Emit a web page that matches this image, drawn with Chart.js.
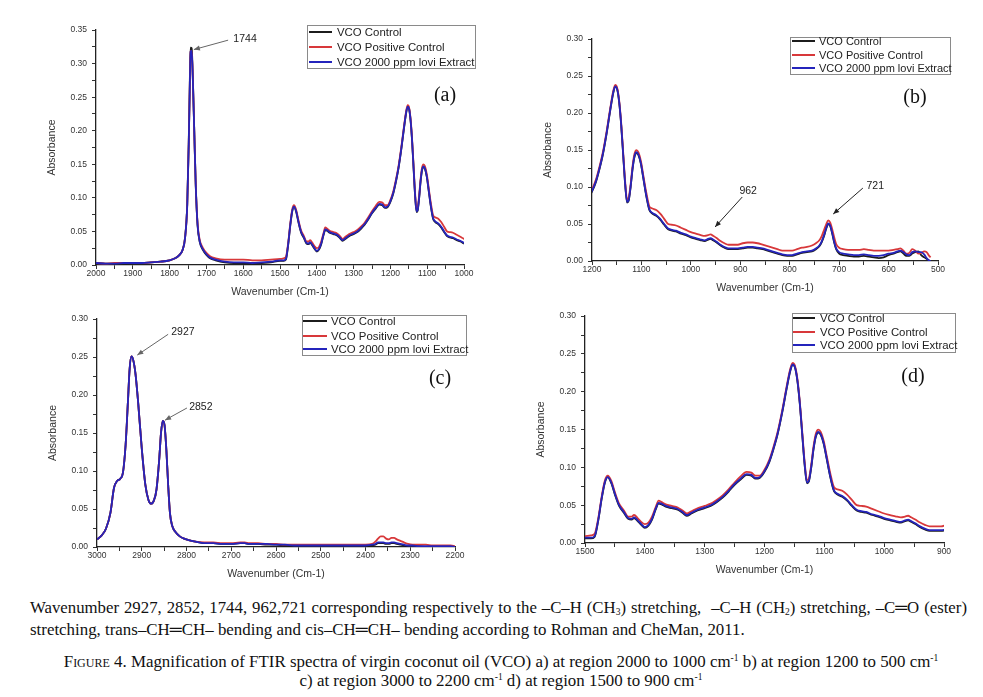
<!DOCTYPE html>
<html>
<head>
<meta charset="utf-8">
<script src="https://cdn.jsdelivr.net/npm/chart.js@4.4.1/dist/chart.umd.min.js"></script>
<style>
  html,body{margin:0;padding:0;background:#fff;}
  body{width:983px;height:697px;position:relative;overflow:hidden;}
  canvas{position:absolute;}
  .cap{position:absolute;font-family:"Liberation Serif","Times New Roman",serif;color:#111;white-space:nowrap;}
  .cap sup{font-size:9.5px;vertical-align:6px;line-height:0;}
  .cap sub{font-size:9.5px;vertical-align:-2px;line-height:0;}
  .sc{font-variant:small-caps;}
</style>
</head>
<body>
<canvas id="ca" width="442" height="281" style="left:46px;top:20px;"></canvas>
<canvas id="cb" width="420" height="268" style="left:542px;top:29px;"></canvas>
<canvas id="cc" width="432" height="274" style="left:47px;top:309px;"></canvas>
<canvas id="cd" width="433" height="273" style="left:535px;top:306px;"></canvas>

<div class="cap" style="left:30px;top:597px;width:937px;font-size:16.8px;line-height:22px;text-align:justify;text-align-last:justify;">Wavenumber 2927, 2852, 1744, 962,721 corresponding respectively to the –C–H (CH<sub>3</sub>) stretching, &nbsp;–C–H (CH<sub>2</sub>) stretching, –C═O (ester)</div>
<div class="cap" style="left:30px;top:619px;font-size:16.9px;line-height:22px;">stretching, trans–CH═CH– bending and cis–CH═CH– bending according to Rohman and CheMan, 2011.</div>
<div class="cap" style="left:20px;top:652px;width:962px;text-align:center;font-size:16.9px;line-height:19px;"><span class="sc">Figure</span> 4. Magnification of FTIR spectra of virgin coconut oil (VCO) a) at region 2000 to 1000 cm<sup>-1</sup> b) at region 1200 to 500 cm<sup>-1</sup><br>c) at region 3000 to 2200 cm<sup>-1</sup> d) at region 1500 to 900 cm<sup>-1</sup></div>

<script>
// ---------------- DATA ----------------
const seriesNames = ["VCO Control", "VCO Positive Control", "VCO 2000 ppm lovi Extract"];

// Fingerprint region (used by panels a, b, d)
const wavenumberFP = [
 2000,1975,1950,1925,1900,1875,1850,1825,1800,1785,
 1775,1765,1758,1752,1748,1745,1743,1740,1737,1733,
 1729,1724,1718,1710,1700,1690,1675,1650,1625,1600,
 1575,1550,1525,1500,1490,1484,1478,1472,1467,1462,
 1456,1450,1443,1435,1428,1422,1418,1412,1406,1400,
 1394,1388,1382,1377,1372,1365,1355,1345,1337,1330,
 1322,1312,1300,1290,1280,1270,1260,1250,1240,1230,
 1222,1215,1208,1200,1192,1185,1178,1170,1163,1157,
 1153,1149,1145,1141,1137,1133,1129,1126,1122,1118,
 1114,1110,1106,1101,1096,1090,1084,1078,1070,1062,
 1054,1046,1038,1030,1020,1010,1000,990,980,972,
 965,960,955,948,940,932,924,915,905,895,
 885,875,865,855,845,835,825,815,805,795,
 785,775,765,755,747,740,735,730,726,722,
 718,714,710,706,700,692,682,670,660,650,
 640,630,620,610,600,590,582,576,570,564,
 558,552,546,540,534,528,523,519,515];

const controlFP = [
 0.003,0.002,0.002,0.002,0.003,0.003,0.004,0.005,0.007,0.010,
 0.014,0.022,0.041,0.092,0.183,0.275,0.324,0.323,0.282,0.200,
 0.119,0.059,0.034,0.023,0.015,0.010,0.007,0.004,0.003,0.003,
 0.002,0.003,0.004,0.006,0.006,0.008,0.029,0.059,0.079,0.087,
 0.079,0.064,0.049,0.040,0.032,0.031,0.033,0.029,0.024,0.020,
 0.023,0.031,0.044,0.052,0.051,0.048,0.046,0.044,0.040,0.036,
 0.039,0.043,0.046,0.049,0.054,0.060,0.068,0.077,0.084,0.090,
 0.089,0.085,0.086,0.094,0.107,0.124,0.144,0.174,0.204,0.227,
 0.236,0.232,0.214,0.184,0.144,0.104,0.079,0.081,0.099,0.124,
 0.141,0.146,0.143,0.131,0.111,0.087,0.069,0.064,0.061,0.056,
 0.049,0.043,0.041,0.040,0.037,0.035,0.032,0.030,0.028,0.027,
 0.029,0.030,0.028,0.025,0.021,0.018,0.016,0.016,0.016,0.017,
 0.018,0.018,0.017,0.016,0.014,0.012,0.010,0.008,0.007,0.007,
 0.009,0.011,0.012,0.013,0.016,0.020,0.026,0.035,0.044,0.050,
 0.047,0.037,0.025,0.016,0.010,0.008,0.007,0.006,0.006,0.007,
 0.006,0.005,0.004,0.005,0.008,0.010,0.012,0.013,0.010,0.007,
 0.007,0.010,0.012,0.013,0.008,0.005,0.003,0.001,0.000];

const positiveFP = [
 0.003,0.002,0.003,0.003,0.003,0.003,0.004,0.005,0.007,0.010,
 0.014,0.022,0.040,0.090,0.180,0.270,0.318,0.319,0.280,0.200,
 0.120,0.062,0.037,0.026,0.018,0.013,0.010,0.008,0.008,0.008,
 0.007,0.007,0.008,0.009,0.010,0.012,0.032,0.062,0.082,0.089,
 0.082,0.067,0.052,0.043,0.035,0.035,0.037,0.033,0.028,0.025,
 0.027,0.035,0.047,0.056,0.054,0.051,0.049,0.047,0.043,0.039,
 0.042,0.046,0.049,0.052,0.057,0.063,0.071,0.080,0.088,0.094,
 0.093,0.089,0.089,0.097,0.110,0.127,0.147,0.177,0.207,0.230,
 0.238,0.234,0.217,0.187,0.148,0.108,0.083,0.085,0.103,0.128,
 0.145,0.150,0.147,0.135,0.115,0.092,0.074,0.071,0.069,0.064,
 0.057,0.050,0.049,0.048,0.045,0.042,0.039,0.037,0.035,0.034,
 0.035,0.036,0.034,0.031,0.027,0.024,0.022,0.022,0.022,0.024,
 0.025,0.025,0.024,0.022,0.020,0.018,0.016,0.014,0.014,0.014,
 0.016,0.018,0.019,0.021,0.024,0.028,0.034,0.043,0.050,0.055,
 0.052,0.043,0.032,0.023,0.018,0.016,0.015,0.015,0.015,0.016,
 0.015,0.014,0.014,0.014,0.014,0.015,0.016,0.017,0.014,0.010,
 0.011,0.016,0.014,0.010,0.011,0.013,0.012,0.008,0.005];

const loviFP = [
 0.003,0.002,0.002,0.003,0.003,0.003,0.004,0.005,0.007,0.010,
 0.014,0.022,0.040,0.090,0.180,0.270,0.318,0.319,0.280,0.200,
 0.120,0.060,0.035,0.024,0.016,0.011,0.008,0.005,0.004,0.004,
 0.003,0.004,0.005,0.007,0.007,0.009,0.030,0.060,0.080,0.087,
 0.080,0.065,0.050,0.041,0.033,0.032,0.034,0.030,0.025,0.021,
 0.024,0.032,0.045,0.053,0.052,0.049,0.047,0.045,0.041,0.037,
 0.040,0.044,0.047,0.050,0.055,0.061,0.069,0.078,0.085,0.091,
 0.090,0.086,0.087,0.095,0.108,0.125,0.145,0.175,0.205,0.228,
 0.236,0.232,0.215,0.185,0.145,0.105,0.080,0.082,0.100,0.125,
 0.142,0.147,0.144,0.132,0.112,0.088,0.070,0.065,0.062,0.057,
 0.050,0.044,0.042,0.041,0.038,0.036,0.033,0.031,0.029,0.028,
 0.030,0.031,0.029,0.026,0.022,0.019,0.017,0.017,0.017,0.018,
 0.019,0.019,0.018,0.017,0.015,0.013,0.011,0.009,0.008,0.008,
 0.010,0.012,0.013,0.014,0.017,0.021,0.027,0.036,0.045,0.051,
 0.048,0.038,0.026,0.017,0.012,0.010,0.009,0.008,0.008,0.009,
 0.008,0.007,0.007,0.008,0.010,0.011,0.013,0.014,0.012,0.009,
 0.008,0.012,0.013,0.012,0.012,0.009,0.004,0.001,0.000];

// C-H stretching region (panel c)
const wavenumberCH = [
 3000,2990,2980,2970,2962,2955,2948,2942,2936,2931,
 2927,2923,2919,2914,2908,2900,2892,2885,2879,2873,
 2867,2861,2857,2853,2849,2845,2841,2837,2832,2825,
 2815,2805,2795,2780,2760,2740,2720,2700,2680,2670,
 2660,2640,2620,2600,2580,2560,2540,2520,2500,2480,
 2460,2440,2420,2400,2385,2378,2372,2366,2360,2354,
 2348,2342,2336,2330,2322,2314,2305,2295,2280,2265,
 2250,2235,2220,2210,2200];

const controlCH = [
 0.010,0.015,0.024,0.045,0.078,0.087,0.090,0.098,0.135,0.190,
 0.235,0.251,0.246,0.228,0.190,0.130,0.082,0.062,0.057,0.061,
 0.076,0.115,0.150,0.166,0.160,0.128,0.082,0.045,0.028,0.020,
 0.014,0.011,0.009,0.007,0.005,0.005,0.004,0.004,0.005,0.005,
 0.004,0.004,0.003,0.003,0.002,0.002,0.002,0.002,0.002,0.002,
 0.002,0.002,0.002,0.002,0.002,0.003,0.005,0.005,0.005,0.004,
 0.004,0.005,0.005,0.004,0.003,0.002,0.001,0.001,0.001,0.000,
 0.000,0.000,0.000,0.000,0.000];

const positiveCH = [
 0.010,0.015,0.024,0.045,0.078,0.087,0.090,0.098,0.135,0.190,
 0.235,0.251,0.246,0.228,0.190,0.130,0.082,0.062,0.057,0.061,
 0.076,0.115,0.150,0.166,0.160,0.128,0.082,0.045,0.028,0.020,
 0.014,0.011,0.009,0.007,0.006,0.006,0.005,0.005,0.006,0.006,
 0.005,0.005,0.004,0.004,0.003,0.003,0.003,0.003,0.003,0.003,
 0.003,0.003,0.003,0.003,0.004,0.007,0.011,0.014,0.014,0.011,
 0.010,0.012,0.012,0.010,0.008,0.006,0.004,0.003,0.003,0.003,
 0.002,0.002,0.002,0.002,0.001];

const loviCH = [
 0.010,0.015,0.024,0.045,0.078,0.087,0.090,0.098,0.135,0.190,
 0.235,0.251,0.246,0.228,0.190,0.130,0.082,0.062,0.057,0.061,
 0.076,0.115,0.150,0.166,0.160,0.128,0.082,0.045,0.028,0.020,
 0.014,0.011,0.009,0.007,0.005,0.005,0.004,0.004,0.005,0.005,
 0.004,0.004,0.004,0.003,0.003,0.002,0.002,0.002,0.002,0.002,
 0.002,0.002,0.002,0.002,0.003,0.004,0.006,0.006,0.006,0.005,
 0.005,0.006,0.006,0.005,0.004,0.003,0.002,0.002,0.001,0.001,
 0.001,0.001,0.001,0.001,0.000];

// ---------------- STYLE ----------------
const COLORS = ["#1c1c1c", "#d8383a", "#2424bc"];
const SANS = '"Liberation Sans", Arial, sans-serif';

const overlayPlugin = {
  id: 'overlay',
  afterDatasetsDraw(chart, args, o) {
    const ctx = chart.ctx, xs = chart.scales.x, ys = chart.scales.y;
    ctx.save();
    (o.arrows || []).forEach(a => {
      const x1 = xs.getPixelForValue(a.from[0]), y1 = ys.getPixelForValue(a.from[1]);
      const x2 = xs.getPixelForValue(a.to[0]), y2 = ys.getPixelForValue(a.to[1]);
      ctx.strokeStyle = a.color; ctx.fillStyle = a.color; ctx.lineWidth = 1;
      ctx.beginPath(); ctx.moveTo(x1, y1); ctx.lineTo(x2, y2); ctx.stroke();
      const ang = Math.atan2(y2 - y1, x2 - x1), L = 6, W = 2.5;
      ctx.beginPath(); ctx.moveTo(x2, y2);
      ctx.lineTo(x2 - L*Math.cos(ang) + W*Math.sin(ang), y2 - L*Math.sin(ang) - W*Math.cos(ang));
      ctx.lineTo(x2 - L*Math.cos(ang) - W*Math.sin(ang), y2 - L*Math.sin(ang) + W*Math.cos(ang));
      ctx.closePath(); ctx.fill();
      ctx.font = '10.5px ' + SANS; ctx.fillStyle = '#222';
      ctx.textAlign = 'center'; ctx.textBaseline = 'middle';
      ctx.fillText(a.text, xs.getPixelForValue(a.textAt[0]), ys.getPixelForValue(a.textAt[1]));
    });
    const lg = o.legend;
    ctx.fillStyle = '#fff'; ctx.fillRect(lg.x, lg.y, lg.w, lg.h);
    ctx.strokeStyle = '#8a8a8a'; ctx.lineWidth = 1;
    ctx.strokeRect(lg.x + 0.5, lg.y + 0.5, lg.w, lg.h);
    ctx.font = lg.font + 'px ' + SANS; ctx.textAlign = 'left'; ctx.textBaseline = 'middle';
    seriesNames.forEach((n, i) => {
      ctx.strokeStyle = COLORS[i]; ctx.lineWidth = 2;
      ctx.beginPath(); ctx.moveTo(lg.lx1, lg.rows[i]); ctx.lineTo(lg.lx2, lg.rows[i]); ctx.stroke();
      ctx.fillStyle = '#222'; ctx.fillText(n, lg.tx, lg.rows[i] + 0.5);
    });
    ctx.font = '20px "Liberation Serif", "Times New Roman", serif';
    ctx.fillStyle = '#111'; ctx.textAlign = 'center'; ctx.textBaseline = 'middle';
    ctx.fillText(o.panel.text, o.panel.x, o.panel.y);
    ctx.restore();
  }
};

function makeChart(id, p) {
  const ds = [p.control, p.positive, p.lovi].map((arr, i) => ({
    label: seriesNames[i],
    data: p.wn.map((x, k) => ({x: x, y: arr[k]})),
    borderColor: COLORS[i],
    borderWidth: 1.8,
    pointRadius: 0,
    fill: false,
    cubicInterpolationMode: 'monotone',
    order: 3 - i
  }));
  return new Chart(document.getElementById(id), {
    type: 'line',
    data: {datasets: ds},
    options: {
      responsive: false, animation: false, events: [],
      layout: {padding: {left: 0, right: 24, top: 10, bottom: 0}},
      plugins: {legend: {display: false}, tooltip: {enabled: false}, overlay: p.overlay},
      scales: {
        x: {
          type: 'linear', reverse: true, min: p.xMin, max: p.xMax,
          afterFit(s) { s.height = 36; },
          border: {display: true, color: '#222', width: 1.3},
          grid: {drawOnChartArea: false, drawTicks: true, tickLength: 4, color: '#333'},
          ticks: {stepSize: 50, autoSkip: false, maxRotation: 0, padding: 0, color: '#333',
                  font: {family: SANS, size: 8.5},
                  callback: v => (Math.round(v) % 100 === 0 ? String(Math.round(v)) : '')},
          title: {display: true, text: 'Wavenumber (Cm-1)', color: '#333',
                  font: {family: SANS, size: 10.5}, padding: {top: 0, bottom: 3}}
        },
        y: {
          min: 0, max: p.yMax,
          afterFit(s) { s.width = 50; },
          border: {display: true, color: '#222', width: 1.3},
          grid: {drawOnChartArea: false, drawTicks: true, tickLength: 4, color: '#333'},
          ticks: {stepSize: 0.025, autoSkip: false, padding: 5, color: '#333',
                  font: {family: SANS, size: 8.5},
                  callback: v => (Math.round(v * 1000) % 50 === 0 ? v.toFixed(2) : '')},
          title: {display: true, text: 'Absorbance', color: '#333',
                  font: {family: SANS, size: 10.5}, padding: {top: 0, bottom: 0}}
        }
      }
    },
    plugins: [overlayPlugin]
  });
}

// (a) 2000-1000
makeChart('ca', {
  wn: wavenumberFP, control: controlFP, positive: positiveFP, lovi: loviFP,
  xMin: 1000, xMax: 2000, yMax: 0.35,
  overlay: {
    arrows: [{from: [1641, 0.335], to: [1734, 0.321], textAt: [1595, 0.3366], text: '1744', color: '#666'}],
    legend: {x: 261, y: 5, w: 168, h: 43, rows: [12, 27, 42], lx1: 263, lx2: 286, tx: 291, font: 11.4},
    panel: {text: '(a)', x: 399, y: 76}
  }
});

// (b) 1200-500
makeChart('cb', {
  wn: wavenumberFP, control: controlFP, positive: positiveFP, lovi: loviFP,
  xMin: 500, xMax: 1200, yMax: 0.30,
  overlay: {
    arrows: [
      {from: [896, 0.0865], to: [951, 0.046], textAt: [884, 0.0946], text: '962', color: '#222'},
      {from: [652, 0.0986], to: [712, 0.0635], textAt: [627, 0.101], text: '721', color: '#222'}
    ],
    legend: {x: 248, y: 8, w: 160, h: 37, rows: [12, 26, 39], lx1: 250, lx2: 273, tx: 277, font: 11},
    panel: {text: '(b)', x: 373, y: 69}
  }
});

// (c) 3000-2200
makeChart('cc', {
  wn: wavenumberCH, control: controlCH, positive: positiveCH, lovi: loviCH,
  xMin: 2200, xMax: 3000, yMax: 0.30,
  overlay: {
    arrows: [
      {from: [2841, 0.280], to: [2910, 0.2526], textAt: [2808, 0.283], text: '2927', color: '#666'},
      {from: [2799, 0.183], to: [2848, 0.167], textAt: [2768, 0.184], text: '2852', color: '#666'}
    ],
    legend: {x: 255, y: 6, w: 164, h: 40, rows: [12, 27, 40], lx1: 256, lx2: 280, tx: 284, font: 11.4},
    panel: {text: '(c)', x: 393, y: 70}
  }
});

// (d) 1500-900
makeChart('cd', {
  wn: wavenumberFP, control: controlFP, positive: positiveFP, lovi: loviFP,
  xMin: 900, xMax: 1500, yMax: 0.30,
  overlay: {
    arrows: [],
    legend: {x: 257, y: 7, w: 163, h: 39, rows: [12, 26, 39], lx1: 258, lx2: 280, tx: 285, font: 11.4},
    panel: {text: '(d)', x: 378, y: 71}
  }
});
</script>
</body>
</html>
